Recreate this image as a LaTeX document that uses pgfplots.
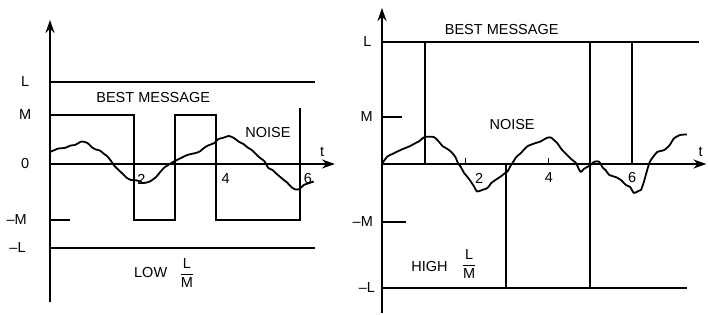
\documentclass[border=0pt]{standalone}
\usepackage{pgfplots}
\pgfplotsset{compat=1.18}
\usepackage{amsmath}
\usepackage{fontspec}
\setmainfont{Liberation Sans}
\usetikzlibrary{arrows.meta}
\begin{document}
\begin{tikzpicture}[x=1pt,y=1pt]
\path (0,0) rectangle (708,315);
\tikzset{lbl/.style={font=\fontsize{14.5}{16}\selectfont, inner sep=0pt}}
\pgfplotsset{panel/.style={scale only axis, width=354pt, height=315pt, hide axis, clip=false,
  ymin=-15.1, ymax=16.4, cycle list={{black, solid, line width=2pt}}},
  ln/.style={black, solid, no markers, line width=2pt, line join=miter, line cap=butt},
  nz/.style={black, solid, no markers, line width=1.8pt, line join=round, smooth, tension=0.4},
  arr/.style={ln, -{Stealth[length=13pt,width=9pt]}}}
% ---------------- LEFT: LOW L/M ----------------
\begin{axis}[panel, at={(0pt,0pt)}, anchor=south west, xmin=-1.202, xmax=7.308]
\addplot[arr] coordinates {(0,-13.8) (0,14.4)};
\addplot[arr] coordinates {(0,0) (6.85,0)};
\addplot[ln] coordinates {(0,8.2) (6.37,8.2)};
\addplot[ln] coordinates {(0,-8.4) (6.37,-8.4)};
\addplot[ln] coordinates {(0,-5.6) (0.48,-5.6)};
% best message
\addplot[ln] coordinates {(0,4.9) (2.02,4.9) (2.02,-5.6) (3.0,-5.6) (3.0,4.9) (4.0,4.9) (4.0,-5.6) (6.01,-5.6) (6.01,5.6)};
% noise
\addplot[nz] coordinates {
(0,1.2) (0.2,1.55) (0.35,1.6) (0.5,1.85) (0.6,1.9) (0.76,2.25) (0.9,2.1) (1.0,1.7) (1.1,1.45) (1.2,1.35)
(1.3,1.0) (1.37,0.8) (1.45,0.4) (1.55,-0.2) (1.65,-0.6) (1.75,-1.0) (1.85,-1.4) (1.95,-1.6) (2.1,-1.65)
(2.25,-1.9) (2.4,-1.75) (2.55,-1.3) (2.65,-0.8) (2.75,-0.35) (2.9,0.05) (3.0,0.3) (3.15,0.6) (3.3,0.9)
(3.5,1.1) (3.6,1.25) (3.7,1.6) (3.8,1.85) (3.95,2.1) (4.05,2.5) (4.15,2.6) (4.3,2.8) (4.42,2.6) (4.55,2.2)
(4.65,2.0) (4.75,1.65) (4.85,1.4) (4.95,1.0) (5.05,0.6) (5.15,0.3) (5.25,-0.4) (5.35,-0.6) (5.45,-1.0)
(5.55,-1.35) (5.62,-1.6) (5.7,-1.85) (5.8,-2.3) (5.9,-2.55) (6.0,-2.5) (6.1,-2.1) (6.2,-1.95) (6.34,-1.75)};
\node[lbl] at (axis cs:-0.6,8.2) {L};
\node[lbl] at (axis cs:-0.6,4.9) {M};
\node[lbl] at (axis cs:-0.6,0) {0};
\node[lbl] at (axis cs:-0.8,-5.6) {--M};
\node[lbl] at (axis cs:-0.78,-8.4) {--L};
\node[lbl] at (axis cs:2.2,-1.5) {2};
\node[lbl] at (axis cs:4.22,-1.5) {4};
\node[lbl] at (axis cs:6.2,-1.5) {6};
\node[lbl] at (axis cs:6.54,1.2) {t};
\node[lbl] at (axis cs:2.48,6.6) {BEST MESSAGE};
\node[lbl] at (axis cs:5.24,3.1) {NOISE};
\node[lbl] at (axis cs:2.42,-10.9) {LOW};
\node[lbl] at (axis cs:3.29,-10.9) {$\dfrac{\mbox{L}}{\mbox{M}}$};
\end{axis}
% ---------------- RIGHT: HIGH L/M ----------------
\begin{axis}[panel, at={(354pt,0pt)}, anchor=south west, xmin=-0.671, xmax=7.818]
\addplot[arr] coordinates {(0,-14.9) (0,15.6)};
\addplot[arr] coordinates {(0,0) (7.78,0)};
\addplot[ln] coordinates {(0,12.2) (7.6,12.2)};
\addplot[ln] coordinates {(0,-12.4) (7.31,-12.4)};
\addplot[ln] coordinates {(0,4.7) (0.48,4.7)};
\addplot[ln] coordinates {(0,-5.8) (0.58,-5.8)};
\addplot[ln, line width=1.3pt] coordinates {(2,0) (2,0.55)};
\addplot[ln, line width=1.3pt] coordinates {(4,0) (4,0.55)};
% best message
\addplot[ln] coordinates {(1.02,12.2) (1.02,0)};
\addplot[ln] coordinates {(2.97,0) (2.97,-12.4)};
\addplot[ln] coordinates {(4.99,-12.4) (4.99,12.2)};
\addplot[ln] coordinates {(5.99,12.2) (5.99,0)};
% noise
\addplot[nz] coordinates {
(0.01,0.1) (0.13,0.75) (0.25,1.0) (0.37,1.25) (0.5,1.5) (0.65,1.75) (0.81,2.1) (0.9,2.3) (1.02,2.7)
(1.24,2.7) (1.35,2.3) (1.45,1.8) (1.55,1.55) (1.65,1.25) (1.76,0.7) (1.82,0.1) (1.89,-0.3) (1.97,-0.9)
(2.05,-1.3) (2.13,-1.75) (2.2,-2.2) (2.28,-2.75) (2.4,-2.6) (2.53,-2.4) (2.62,-1.9) (2.72,-1.6)
(2.88,-1.15) (2.95,-0.9) (3.01,-0.75) (3.08,-0.2) (3.13,0.1) (3.22,0.7) (3.32,1.05) (3.48,1.75)
(3.65,2.05) (3.8,2.25) (3.95,2.6) (4.05,2.65) (4.21,2.05) (4.3,1.5) (4.44,0.9) (4.55,0.45) (4.65,0.1)
(4.72,-0.5) (4.77,-0.8) (4.84,-0.5) (4.92,-0.3) (5.0,-0.1) (5.08,0.2) (5.2,0.25) (5.3,-0.4) (5.36,-0.6)
(5.45,-1.1) (5.6,-1.3) (5.73,-1.6) (5.85,-2.1) (5.95,-2.3) (6.04,-2.9) (6.15,-2.7) (6.21,-2.6)
(6.28,-1.8) (6.32,-1.2) (6.36,-0.6) (6.42,0.2) (6.5,0.7) (6.6,1.2) (6.77,1.4) (6.9,1.9) (7.0,2.55)
(7.15,2.9) (7.31,2.95)};
\node[lbl] at (axis cs:-0.35,12.2) {L};
\node[lbl] at (axis cs:-0.37,4.7) {M};
\node[lbl] at (axis cs:-0.46,-5.8) {--M};
\node[lbl] at (axis cs:-0.36,-12.4) {--L};
\node[lbl] at (axis cs:2.33,-1.4) {2};
\node[lbl] at (axis cs:4.0,-1.4) {4};
\node[lbl] at (axis cs:6.0,-1.4) {6};
\node[lbl] at (axis cs:7.64,1.2) {t};
\node[lbl] at (axis cs:2.87,13.4) {BEST MESSAGE};
\node[lbl] at (axis cs:3.12,3.9) {NOISE};
\node[lbl] at (axis cs:1.14,-10.3) {HIGH};
\node[lbl] at (axis cs:2.09,-10.0) {$\dfrac{\mbox{L}}{\mbox{M}}$};
\end{axis}
\end{tikzpicture}
\end{document}
